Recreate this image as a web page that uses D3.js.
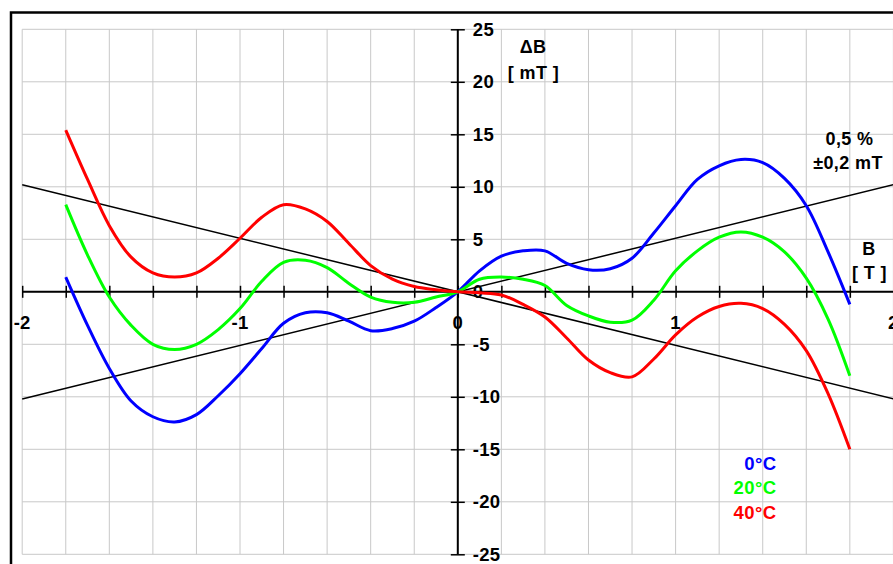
<!DOCTYPE html>
<html>
<head>
<meta charset="utf-8">
<script src="https://cdn.jsdelivr.net/npm/d3@7"></script>
<style>
  html, body { margin: 0; padding: 0; background: #fff; overflow: hidden; }
  svg { display: block; font-family: "Liberation Sans", Arial, sans-serif; font-weight: bold; }
</style>
</head>
<body>
<svg id="chart" width="893" height="564"></svg>
<script>
// ---- data ----
const bValues = [-1.8,-1.7,-1.6,-1.5,-1.4,-1.3,-1.2,-1.1,-1.0,-0.9,-0.8,-0.7,-0.6,-0.5,-0.4,-0.3,-0.2,-0.1,0,
                 0.1,0.2,0.3,0.4,0.5,0.6,0.7,0.8,0.9,1.0,1.1,1.2,1.3,1.4,1.5,1.6,1.7,1.8];
const dB0 = [1.4,-3.2,-7.3,-10.4,-11.9,-12.4,-11.7,-9.9,-7.8,-5.4,-3.0,-2.0,-2.0,-2.8,-3.7,-3.5,-2.8,-1.5,0,
             2.0,3.4,3.9,3.9,2.7,2.1,2.2,3.2,5.6,8.2,10.7,12.0,12.6,12.3,10.8,8.2,3.8,-1.2];
const dB20 = [8.3,3.5,-0.5,-3.2,-5.0,-5.5,-5.0,-3.6,-1.6,1.0,2.8,3.0,2.3,0.8,-0.5,-1.0,-1.0,-0.5,0,
              1.2,1.4,1.2,0.6,-1.3,-2.3,-2.9,-2.7,-0.8,2.0,3.9,5.2,5.7,5.2,3.8,1.3,-2.6,-8.0];
const dB40 = [15.4,10.7,6.3,3.3,1.8,1.4,1.8,3.2,5.1,7.1,8.3,7.9,6.7,4.6,2.5,1.2,0.5,0.2,0,
              -0.1,-0.3,-1.2,-2.4,-4.4,-6.5,-7.7,-8.1,-6.4,-4.1,-2.4,-1.4,-1.1,-1.6,-3.1,-5.6,-9.7,-15.0];
const seriesNames = ["0°C", "20°C", "40°C"];
const seriesColors = ["#0000ff", "#00ff00", "#ff0000"];
const tolLineUp = [[-2, -10.2], [2, 10.2]];
const tolLineDown = [[-2, 10.2], [2, -10.2]];
const xTickValues = [-2, -1, 0, 1, 2];
const yTickValues = [25, 20, 15, 10, 5, 0, -5, -10, -15, -20, -25];

// ---- scales ----
const svg = d3.select("#chart");
const x = d3.scaleLinear().domain([-2, 2]).range([22.2, 893.4]);
const y = d3.scaleLinear().domain([-25, 25]).range([554.3, 29.3]);

// outer frame
svg.append("rect").attr("x", 11).attr("y", 12.5).attr("width", 1000).attr("height", 1000)
  .attr("fill", "none").attr("stroke", "#000").attr("stroke-width", 2.5);

// grid
const grid = svg.append("g").attr("stroke", "#c8c8c8").attr("stroke-width", 1);
d3.range(-20, 21, 2).forEach(i => {
  const v = i / 10;
  grid.append("line").attr("x1", x(v)).attr("x2", x(v)).attr("y1", y(25)).attr("y2", y(-25));
});
d3.range(-25, 26, 5).forEach(v => {
  grid.append("line").attr("x1", x(-2)).attr("x2", x(2)).attr("y1", y(v)).attr("y2", y(v));
});

// tolerance lines
const line = d3.line().x(d => x(d[0])).y(d => y(d[1]));
[tolLineUp, tolLineDown].forEach(l => {
  svg.append("path").attr("d", line(l)).attr("fill", "none").attr("stroke", "#000").attr("stroke-width", 1.5);
});

// axes
const xAxis = d3.axisBottom(x).tickValues(d3.range(-20, 21, 2).map(i => i / 10)).tickSize(12).tickFormat("");
const gx = svg.append("g").attr("transform", `translate(0,${y(0) - 6})`).call(xAxis);
gx.select(".domain").remove();
gx.selectAll(".tick line").attr("stroke", "#000").attr("stroke-width", 1.5);
svg.append("line").attr("x1", x(-2)).attr("x2", x(2)).attr("y1", y(0)).attr("y2", y(0))
  .attr("stroke", "#000").attr("stroke-width", 2);

const yAxis = d3.axisRight(y).tickValues(yTickValues).tickSize(14).tickFormat("");
const gy = svg.append("g").attr("transform", `translate(${x(0) - 7},0)`).call(yAxis);
gy.select(".domain").remove();
gy.selectAll(".tick line").attr("stroke", "#000").attr("stroke-width", 1.5);
svg.append("line").attr("x1", x(0)).attr("x2", x(0)).attr("y1", y(25)).attr("y2", y(-25))
  .attr("stroke", "#000").attr("stroke-width", 2);

// tick labels
svg.append("g").selectAll("text").data(yTickValues).join("text")
  .attr("x", x(0) + 15).attr("y", d => y(d) + 6.5)
  .attr("font-size", 18.5).attr("letter-spacing", 0.3).attr("fill", "#000").text(d => d);
svg.append("g").selectAll("text").data(xTickValues).join("text")
  .attr("x", d => x(d)).attr("y", y(0) + 37).attr("text-anchor", "middle")
  .attr("font-size", 18.5).attr("letter-spacing", 0.3).attr("fill", "#000").text(d => d);

// curves
const curve = d3.line().x(d => x(d[0])).y(d => y(d[1])).curve(d3.curveCatmullRom.alpha(0.5));
[dB0, dB20, dB40].forEach((s, i) => {
  svg.append("path").attr("d", curve(bValues.map((b, j) => [b, s[j]])))
    .attr("fill", "none").attr("stroke", seriesColors[i]).attr("stroke-width", 3)
    .attr("stroke-linejoin", "round");
});

// annotations
const ann = [
  ["ΔB", 533, 53], ["[ mT ]", 533.5, 79],
  ["0,5 %", 849.5, 144.5], ["±0,2 mT", 848, 168.5],
  ["B", 869, 254.5], ["[ T ]", 869.5, 279]
];
svg.append("g").selectAll("text").data(ann).join("text")
  .attr("x", d => d[1]).attr("y", d => d[2]).attr("text-anchor", "middle")
  .attr("font-size", 18).attr("letter-spacing", 0.4).attr("fill", "#000").text(d => d[0]);

// legend
svg.append("g").selectAll("text").data(seriesNames).join("text")
  .attr("x", 776.5).attr("y", (d, i) => 469.5 + i * 24.5).attr("text-anchor", "end")
  .attr("font-size", 18.5).attr("letter-spacing", 0.4).attr("fill", (d, i) => seriesColors[i]).text(d => d);
</script>
</body>
</html>
